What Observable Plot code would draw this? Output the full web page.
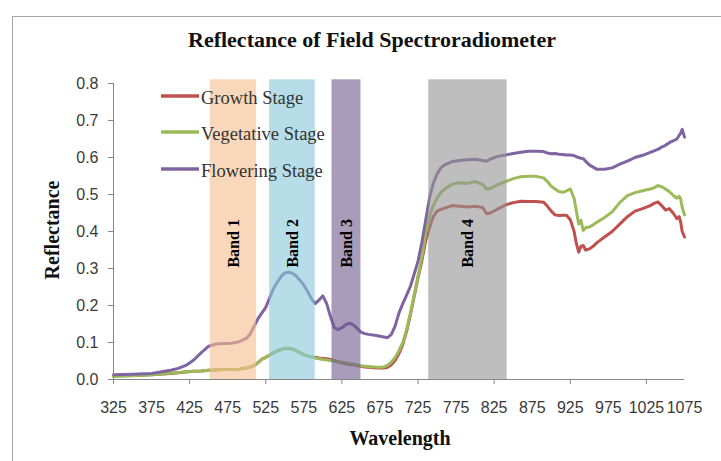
<!DOCTYPE html>
<html><head><meta charset="utf-8">
<script src="https://cdn.jsdelivr.net/npm/d3@7"></script>
<script src="https://cdn.jsdelivr.net/npm/@observablehq/plot@0.6"></script>
<style>body{margin:0;background:#fff}#chart{width:721px;height:461px}</style>
</head><body><div id="chart"></div>
<script>
// ---- data ----
const wavelengths = [325,350,375,400,410,420,430,440,450,460,470,480,490,500,505,510,515,520,525,530,535,540,545,550,555,560,565,570,575,580,585,590,595,600,605,610,615,620,625,630,635,640,645,650,655,660,670,680,685,690,695,700,705,710,715,720,725,730,735,740,745,750,755,760,770,780,790,800,810,815,820,830,840,850,860,870,880,890,895,900,905,910,915,920,925,930,933,936,939,942,945,950,955,960,970,980,990,1000,1010,1020,1030,1035,1040,1045,1050,1055,1060,1065,1068,1070,1072,1075];
const growth = [0.010,0.011,0.013,0.016,0.018,0.020,0.022,0.023,0.025,0.026,0.027,0.027,0.028,0.031,0.034,0.038,0.046,0.055,0.060,0.066,0.072,0.077,0.081,0.084,0.084,0.082,0.078,0.072,0.067,0.064,0.061,0.060,0.058,0.057,0.056,0.054,0.051,0.048,0.045,0.043,0.041,0.040,0.038,0.036,0.034,0.033,0.031,0.031,0.033,0.040,0.052,0.070,0.095,0.130,0.175,0.225,0.275,0.320,0.375,0.410,0.440,0.455,0.460,0.463,0.470,0.468,0.466,0.468,0.465,0.448,0.450,0.461,0.472,0.478,0.482,0.481,0.481,0.479,0.468,0.455,0.445,0.443,0.444,0.444,0.432,0.400,0.367,0.344,0.360,0.362,0.350,0.353,0.360,0.370,0.385,0.400,0.420,0.440,0.455,0.462,0.470,0.476,0.480,0.470,0.458,0.462,0.450,0.435,0.440,0.425,0.400,0.385];
const vegetative = [0.008,0.010,0.013,0.017,0.019,0.021,0.022,0.023,0.025,0.026,0.027,0.027,0.028,0.031,0.034,0.038,0.046,0.055,0.060,0.066,0.072,0.078,0.082,0.085,0.085,0.083,0.079,0.073,0.068,0.064,0.061,0.058,0.056,0.054,0.053,0.051,0.049,0.048,0.047,0.045,0.043,0.041,0.039,0.037,0.036,0.035,0.033,0.034,0.038,0.047,0.060,0.078,0.100,0.135,0.180,0.230,0.280,0.330,0.395,0.440,0.470,0.490,0.505,0.515,0.528,0.532,0.530,0.535,0.527,0.515,0.516,0.527,0.535,0.543,0.548,0.549,0.549,0.545,0.535,0.522,0.515,0.508,0.506,0.510,0.515,0.490,0.455,0.420,0.430,0.403,0.410,0.412,0.418,0.425,0.438,0.453,0.478,0.497,0.505,0.510,0.515,0.518,0.524,0.521,0.515,0.508,0.498,0.490,0.495,0.488,0.465,0.445];
const flowering = [0.013,0.014,0.016,0.025,0.030,0.038,0.052,0.072,0.090,0.096,0.097,0.098,0.102,0.112,0.125,0.145,0.165,0.180,0.195,0.220,0.245,0.262,0.278,0.288,0.290,0.287,0.280,0.268,0.255,0.238,0.218,0.205,0.215,0.226,0.205,0.170,0.140,0.135,0.140,0.148,0.152,0.148,0.138,0.128,0.124,0.122,0.119,0.115,0.113,0.122,0.145,0.180,0.205,0.228,0.252,0.285,0.320,0.370,0.430,0.490,0.530,0.555,0.572,0.580,0.589,0.592,0.594,0.595,0.592,0.590,0.596,0.603,0.607,0.611,0.614,0.617,0.617,0.616,0.612,0.610,0.611,0.609,0.608,0.607,0.607,0.605,0.602,0.600,0.598,0.597,0.590,0.580,0.574,0.568,0.568,0.572,0.582,0.590,0.600,0.606,0.614,0.618,0.622,0.628,0.633,0.640,0.645,0.650,0.660,0.666,0.676,0.655];
const seriesNames = ["Growth Stage", "Vegetative Stage", "Flowering Stage"];
const seriesColors = ["#C0504D", "#9BBB59", "#8064A2"];
const bandNames = ["Band 1", "Band 2", "Band 3", "Band 4"];
const bandStart = [452, 530, 612, 739];
const bandEnd = [513, 590, 650, 842];
const bandColors = ["#F5BC8E", "#87C8D9", "#70588C", "#939393"];
const xLabelTicks = [325,375,425,475,525,575,625,675,725,775,825,875,925,975,1025,1075];
const xMarkTicks = [325,425,525,625,725,825,925,1025];
const yTicks = [0,0.1,0.2,0.3,0.4,0.5,0.6,0.7,0.8];
const titleText = "Reflectance of Field Spectroradiometer";
const xTitle = "Wavelength";
const yTitle = "Reflectance";

// ---- build tables ----
const seriesValues = [growth, vegetative, flowering];
const rows = seriesNames.flatMap((name, s) =>
  wavelengths.map((w, i) => ({wl: w, v: seriesValues[s][i], series: name})));
const bands = bandNames.map((n, i) => ({name: n, x1: bandStart[i], x2: bandEnd[i], color: bandColors[i]}));

const serif = "'Liberation Serif','Times New Roman',serif";
const sans = "'Liberation Sans',Arial,sans-serif";
const axisGray = "#868686";

const plot = Plot.plot({
  width: 721, height: 461,
  marginLeft: 113, marginRight: 37, marginTop: 83, marginBottom: 82,
  x: {domain: [325, 1075]},
  y: {domain: [0, 0.8]},
  color: {domain: seriesNames, range: seriesColors},
  style: {fontFamily: sans, background: "white", overflow: "visible"},
  marks: [
    Plot.line(rows, {x: "wl", y: "v", z: "series", stroke: "series", strokeWidth: 3, strokeLinejoin: "round"}),
    Plot.rect(bands, {x1: "x1", x2: "x2", y1: 0, y2: 0.81, fill: "color", fillOpacity: 0.6}),
    Plot.text(bands, {x: d => (d.x1 + d.x2) / 2, y: 0.368, text: "name", rotate: -90,
      fontFamily: serif, fontWeight: "bold", fontSize: 16, fill: "#000"}),
    Plot.ruleX([325], {y1: 0, y2: 0.8, stroke: axisGray}),
    Plot.ruleY([0], {stroke: axisGray}),
    Plot.axisY({ticks: yTicks, tickFormat: d3.format(".1f"), tickSize: 5, tickPadding: 10,
      fontSize: 16, stroke: axisGray, fill: "#3a3a3a", label: null}),
    Plot.axisX({ticks: xMarkTicks, tickFormat: () => "", tickSize: 5, stroke: axisGray, label: null}),
    Plot.axisX({ticks: xLabelTicks, tickFormat: d => String(d), tickSize: 0, tickPadding: 22, fontSize: 16,
      stroke: "none", fill: "#3a3a3a", label: null})
  ]
});
document.getElementById("chart").appendChild(plot);

// ---- chrome: frame, titles, legend ----
const svg = d3.select(plot);
svg.insert("rect", ":first-child")
  .attr("x", 12.5).attr("y", 16.5).attr("width", 800).attr("height", 600)
  .attr("fill", "white").attr("stroke", "#a6a6a6");
svg.append("text").text(titleText)
  .attr("x", 372).attr("y", 47).attr("text-anchor", "middle")
  .attr("font-family", serif).attr("font-weight", "bold").attr("font-size", 22).attr("fill", "#111");
svg.append("text").text(xTitle)
  .attr("x", 400).attr("y", 445).attr("text-anchor", "middle")
  .attr("font-family", serif).attr("font-weight", "bold").attr("font-size", 20).attr("fill", "#111");
svg.append("text").text(yTitle)
  .attr("transform", "translate(59,230) rotate(-90)").attr("text-anchor", "middle")
  .attr("font-family", serif).attr("font-weight", "bold").attr("font-size", 20).attr("fill", "#111");
const legendY = [96, 132, 169];
seriesNames.forEach((name, i) => {
  svg.append("line").attr("x1", 161).attr("x2", 199).attr("y1", legendY[i]).attr("y2", legendY[i])
    .attr("stroke", seriesColors[i]).attr("stroke-width", 3.5);
  svg.append("text").text(name).attr("x", 201).attr("y", legendY[i] + 8)
    .attr("text-anchor", "start")
    .attr("font-family", serif).attr("font-size", 18.5).attr("fill", "#333");
});
</script>
</body></html>
